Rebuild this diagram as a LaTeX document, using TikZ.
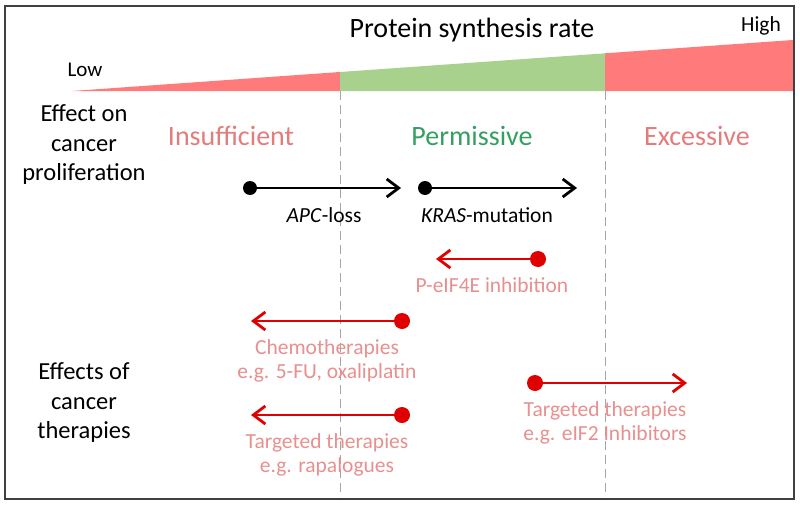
\documentclass[tikz,border=0pt]{standalone}
\usepackage{fontspec}
\setmainfont{Carlito}
\usetikzlibrary{arrows.meta}
\definecolor{tri red}{HTML}{FF7B7B}
\definecolor{tri green}{HTML}{A9D18E}
\definecolor{arrow red}{HTML}{E00000}
\definecolor{label pink}{HTML}{E8908F}
\definecolor{head pink}{HTML}{E57C7C}
\definecolor{head green}{HTML}{33A060}
\tikzset{
  px/.style={x=1pt,y=-1pt},
  barb/.style={-{Straight Barb[length=12pt,width=18pt,line width=2.8pt]}},
  blackarrow/.style={line width=2.8pt,black,barb},
  redarrow/.style={line width=2.8pt,arrow red,barb},
  dotb/.style={circle,fill=black,inner sep=0pt,minimum size=14pt},
  dotr/.style={circle,fill=arrow red,inner sep=0pt,minimum size=16pt},
  lab/.style={font=\fontsize{21.5}{24}\selectfont,align=center,inner sep=0pt},
  plab/.style={lab,text=label pink},
  side/.style={font=\fontsize{24.5}{29.5}\selectfont,align=center,inner sep=0pt},
  zone/.style={font=\fontsize{28}{30}\selectfont,inner sep=0pt},
  divider/.style={gray!70,line width=1pt,dash pattern=on 9pt off 5pt}
}
\begin{document}
\begin{tikzpicture}[px]
\useasboundingbox (0,0) rectangle (800,506);
\fill[white] (0,0) rectangle (800,506);
% triangle
\fill[tri red] (72,91) -- (340,72) -- (340,91) -- cycle;
\fill[tri green] (340,72) -- (605,53.3) -- (605,91) -- (340,91) -- cycle;
\fill[tri red] (605,53.3) -- (793,40) -- (793,91) -- (605,91) -- cycle;
% dividers
\draw[divider] (340,91) -- (340,497);
\draw[divider] (605,91) -- (605,497);
% frame
\draw[line width=1.5pt,black!75] (5,6) rectangle (794,499);
% titles
\node[font=\fontsize{28}{30}\selectfont,inner sep=0pt] (title) at (472,30) {Protein synthesis rate};
\node[font=\fontsize{21.5}{24}\selectfont,inner sep=0pt] (high) at (761,26) {High};
\node[font=\fontsize{21}{24}\selectfont,inner sep=0pt] (low) at (85,70) {Low};
\node[side] (effect) at (84,145) {Effect on\\cancer\\proliferation};
\node[side] (effects) at (84,403) {Effects of\\cancer\\therapies};
\node[zone,text=head pink] (insuf) at (231,136) {Insufficient};
\node[zone,text=head green] (perm) at (472,136) {Permissive};
\node[zone,text=head pink] (exc) at (697,136) {Excessive};
% black arrows
\node[dotb] (apcs) at (250,188) {};
\coordinate (apce) at (401,188);
\draw[blackarrow] (apcs.center) -- (apce);
\node[lab] (apcl) at (324,215) {\textit{APC}-loss};
\node[dotb] (kras) at (425,188) {};
\coordinate (krase) at (577,188);
\draw[blackarrow] (kras.center) -- (krase);
\node[lab] (krasl) at (487,215) {\textit{KRAS}-mutation};
% red arrows
\node[dotr] (peif) at (538,259) {};
\coordinate (peife) at (436,259);
\draw[redarrow] (peif.center) -- (peife);
\node[plab] (peifl) at (492,285) {P-eIF4E inhibition};
\node[dotr] (chemo) at (402,321) {};
\coordinate (chemoe) at (251,321);
\draw[redarrow] (chemo.center) -- (chemoe);
\node[plab] (chemol) at (327,361) {Chemotherapies\\e.g. 5-FU, oxaliplatin};
\node[dotr] (rapa) at (402,415) {};
\coordinate (rapae) at (251,415);
\draw[redarrow] (rapa.center) -- (rapae);
\node[plab] (rapal) at (327,455) {Targeted therapies\\e.g. rapalogues};
\node[dotr] (eif) at (535,383) {};
\coordinate (eife) at (687,383);
\draw[redarrow] (eif.center) -- (eife);
\node[plab] (eifl) at (605,423) {Targeted therapies\\e.g. eIF2 Inhibitors};
\end{tikzpicture}
\end{document}
